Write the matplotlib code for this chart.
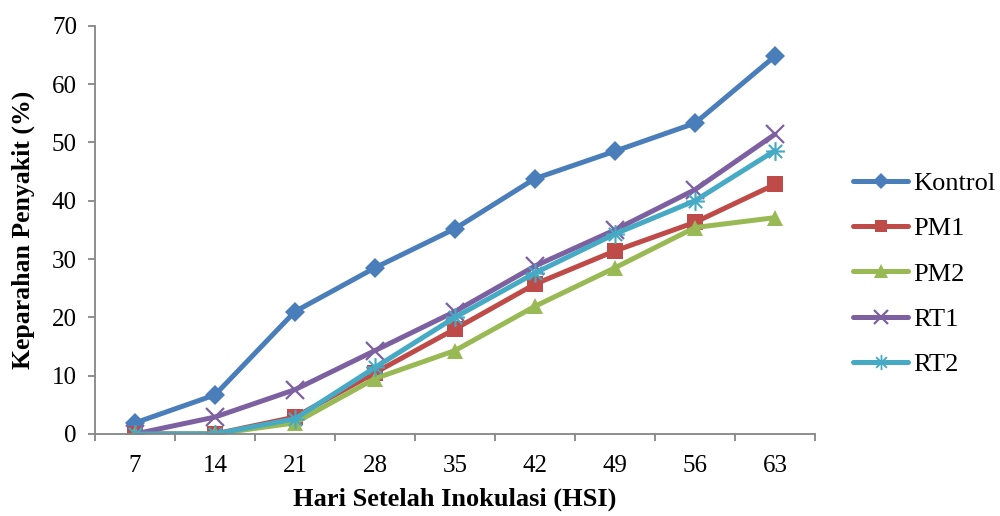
import matplotlib
matplotlib.use("Agg")
import matplotlib.pyplot as plt
import numpy as np

days = ["7", "14", "21", "28", "35", "42", "49", "56", "63"]
kontrol = [1.9, 6.7, 21.0, 28.5, 35.2, 43.8, 48.5, 53.3, 64.8]
pm1 = [0.0, 0.0, 2.9, 10.5, 18.0, 25.7, 31.4, 36.3, 42.8]
pm2 = [0.0, 0.0, 1.9, 9.5, 14.3, 21.9, 28.5, 35.4, 37.1]
rt1 = [0.0, 2.9, 7.6, 14.3, 21.0, 28.8, 35.0, 41.9, 51.4]
rt2 = [0.0, 0.0, 2.6, 11.4, 20.0, 27.6, 34.3, 40.0, 48.6]

series = [
    ("Kontrol", kontrol, "#4A7EBB", "D", 10),
    ("PM1", pm1, "#BE4B48", "s", 11),
    ("PM2", pm2, "#98B954", "^", 12),
    ("RT1", rt1, "#7D60A0", "x", 13),
    ("RT2", rt2, "#46AAC5", "$\u2733$", 13),
]

plt.rcParams["font.family"] = ["Liberation Serif", "DejaVu Serif"]

fig = plt.figure(figsize=(10, 5.16), dpi=100)
ax = fig.add_axes([0.095, 0.159, 0.72, 0.791])

x = np.arange(len(days)) + 0.5
for name, vals, color, marker, ms in series:
    kw = dict(color=color, lw=3.6, marker=marker, markersize=ms, label=name,
              solid_capstyle="round", solid_joinstyle="round")
    if marker == "x":
        kw.update(markeredgewidth=1.6)
    elif marker.startswith("$"):
        kw.update(markeredgewidth=0.6)
    else:
        kw.update(markeredgewidth=0)
    ax.plot(x, vals, **kw)

ax.set_xlim(0, len(days))
ax.set_ylim(0, 70)
ax.set_xticks(np.arange(len(days) + 1))
ax.set_xticklabels([])
ax.set_xticks(x, minor=True)
ax.set_xticklabels(days, minor=True)
ax.tick_params(axis="x", which="minor", length=0, labelsize=18, pad=15)
ax.tick_params(axis="x", which="major", length=5, width=1.3, color="#868686", direction="out")
ax.set_yticks(np.arange(0, 71, 10))
ax.tick_params(axis="y", length=5, width=1.3, color="#868686", direction="out", labelsize=18, pad=8)

for side in ("top", "right"):
    ax.spines[side].set_visible(False)
for side in ("left", "bottom"):
    ax.spines[side].set_color("#868686")
    ax.spines[side].set_linewidth(1.3)
ax.patch.set_alpha(0)

ax.set_xlabel("Hari Setelah Inokulasi (HSI)", fontsize=19, fontweight="bold", labelpad=8)
ax.set_ylabel("Keparahan Penyakit (%)", fontsize=18.5, fontweight="bold", labelpad=12)

leg = fig.legend(loc="center left", bbox_to_anchor=(0.853, 0.469), frameon=False,
                 fontsize=19, handlelength=2.1, labelspacing=0.83, handletextpad=0.2,
                 borderpad=0, borderaxespad=0, markerscale=0.8)

fig.savefig("out.png", dpi=100, facecolor="white")
